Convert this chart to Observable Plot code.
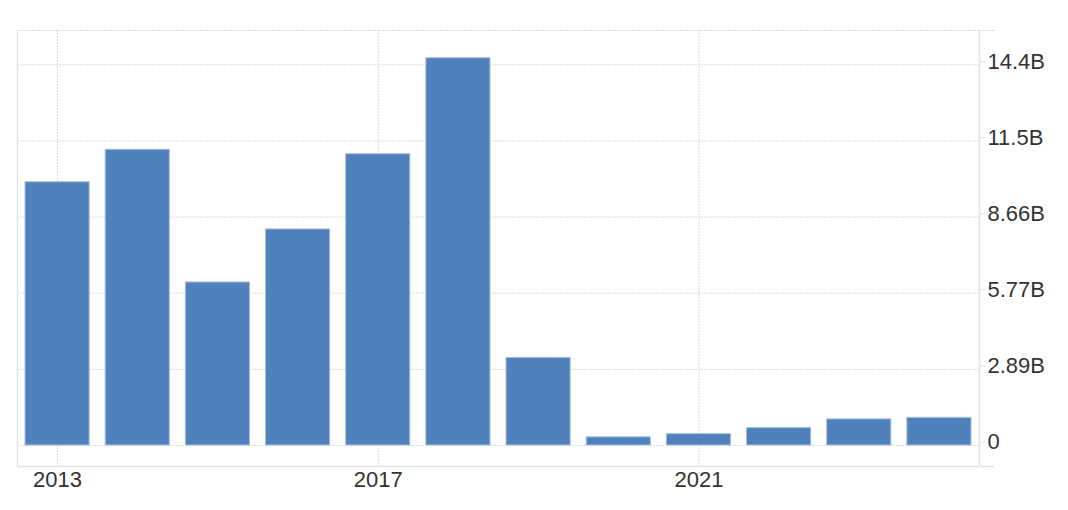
<!DOCTYPE html>
<html>
<head>
<meta charset="utf-8">
<script src="https://cdn.jsdelivr.net/npm/d3@7"></script>
<script src="https://cdn.jsdelivr.net/npm/@observablehq/plot@0.6"></script>
<style>
  html, body { margin: 0; padding: 0; background: #fff; }
</style>
</head>
<body>
<div id="chart"></div>
<script>
// Data (values in billions)
const years = [2013, 2014, 2015, 2016, 2017, 2018, 2019, 2020, 2021, 2022, 2023, 2024];
const values = [9.98, 11.21, 6.18, 8.19, 11.04, 14.68, 3.32, 0.31, 0.43, 0.66, 0.99, 1.05];
const yTickValues = [0, 2.886, 5.772, 8.658, 11.544, 14.43];
const yTickLabels = ["0", "2.89B", "5.77B", "8.66B", "11.5B", "14.4B"];
const xTickValues = [2013, 2017, 2021];
const xTickLabels = ["2013", "2017", "2021"];
const yDomain = [-0.796, 15.73];

const data = years.map((year, i) => ({year, value: values[i]}));
const xMin = years[0] - 0.5;
const xMax = years[years.length - 1] + 0.5;

const gridColor = "#dadada";
const frameColor = "#e2e2e2";
const textColor = "#333333";

const chart = Plot.plot({
  width: 1068,
  height: 510,
  marginLeft: 17,
  marginRight: 89,
  marginTop: 30,
  marginBottom: 44,
  x: {domain: [xMin, xMax], axis: null},
  y: {domain: yDomain, axis: null},
  style: {fontFamily: "'Liberation Sans', Arial, sans-serif", fontSize: "22px", color: textColor, background: "#fff"},
  marks: [
    // horizontal grid
    Plot.ruleY(yTickValues, {x1: xMin, x2: xMax, stroke: gridColor, strokeDasharray: "2,1"}),
    // top dotted border
    Plot.ruleY([yDomain[1]], {x1: xMin, x2: xMax, stroke: gridColor, strokeDasharray: "2,1"}),
    // vertical grid
    Plot.ruleX(xTickValues, {stroke: gridColor, strokeDasharray: "2,1"}),
    // bars
    Plot.rectY(data, {
      x1: d => d.year - 0.5, x2: d => d.year + 0.5, y1: 0, y2: "value",
      insetLeft: 8, insetRight: 8,
      fill: "#4f81bd", stroke: "#a8c0df", strokeWidth: 1
    }),
    // frame left/right/bottom
    Plot.ruleX([xMin, xMax], {stroke: frameColor, strokeWidth: 1.5}),
    Plot.ruleY([yDomain[0]], {x1: xMin, x2: xMax, stroke: frameColor, strokeWidth: 1.5}),
    // right axis ticks + labels
    Plot.axisY(yTickValues, {
      anchor: "right", tickSize: 6, tickPadding: 2,
      tickFormat: d => yTickLabels[yTickValues.indexOf(d)],
      stroke: gridColor, strokeDasharray: "2,1",
      fill: textColor, fontSize: 22, dy: -3.3, label: null
    }),
    // extensions of top & bottom border lines
    Plot.axisY([yDomain[1]], {anchor: "right", tickSize: 14, tickFormat: () => "", stroke: gridColor, strokeDasharray: "2,1", label: null}),
    Plot.axisY([yDomain[0]], {anchor: "right", tickSize: 14, tickFormat: () => "", stroke: frameColor, strokeWidth: 1.5, label: null}),
    // x labels
    Plot.text(xTickValues, {
      x: d => d, y: yDomain[0], text: d => xTickLabels[xTickValues.indexOf(d)],
      lineAnchor: "top", dy: 5, fill: textColor, fontSize: 22
    })
  ]
});
document.getElementById("chart").appendChild(chart);
</script>
</body>
</html>
